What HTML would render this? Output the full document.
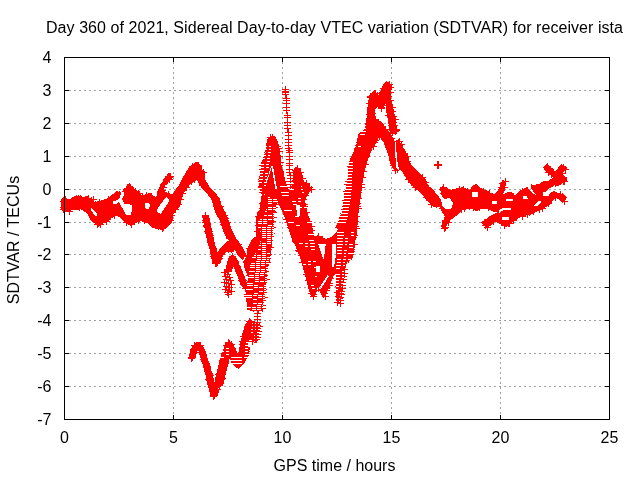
<!DOCTYPE html>
<html><head><meta charset="utf-8"><style>
html,body{margin:0;padding:0;background:#fff;width:640px;height:480px;overflow:hidden}
svg{display:block}
text{font-family:"Liberation Sans",Arial,sans-serif;font-size:16px;fill:#000}
</style></head><body>
<svg width="640" height="480" viewBox="0 0 640 480">
<rect width="640" height="480" fill="#fff"/>
<g shape-rendering="crispEdges" fill="none" stroke="#a0a0a0" stroke-width="1">
<path d="M64 386.5H610M64 353.5H610M64 320.5H610M64 287.5H610M64 254.5H610M64 222.5H610M64 189.5H610M64 156.5H610M64 123.5H610M64 90.5H610" stroke-dasharray="2 3"/><path d="M173.5 57V420M282.5 57V420M391.5 57V420M500.5 57V420" stroke-dasharray="2 3"/>
</g>
<defs><path id="trk" d="M199 170L199.6 179L204 186.4L209.75 192.3L214 198M200.5 170L201.1 179L205.5 186.4L211.25 192.3L215.5 198L217.5 204M191.5 358L193 351L196 345L199 345L202 352L205 362L208 372L210.5 382L212.5 390L213.5 395L216 388L219 375L222 362L225 352L228.5 343L232 349L235 357L237.5 362L240 358L242 350L243.5 342M219 385L222 372L225 360L227 352L229.5 348L232 355L235 363L238 365L241 362L244 355L246 347M214 198L216.5 205L218.5 211L221.5 217L224 224L226.5 231L229.5 237L234 243L238 249L241 255M218 205L220.5 211L223.5 217L226 224L228.5 231L231.5 237L236 243L240 249L242.5 255M205 215L207 225L208.5 233L210.5 242L213 250L214.5 258L215.5 263L218 258L220.5 252L223 248L226 245L230 243M220.5 254L224 248.5L228.5 248L233 248.5M232 256L230.5 261L229 266L228 271M232 256L234.75 262.5L239.75 273.75L242.9 282.5L246 287.5" fill="none" stroke="#ff0000" stroke-width="1" stroke-linejoin="round" stroke-linecap="round"/>
<clipPath id="hc"><path d="M90.5 208L93 209L96.5 213L97 216L95 215.5L91.5 211ZM121 191.5L123.5 192L123.5 196L122 199.5L124.75 204L128 204L131.5 205L132 209L131 214.5L126 214.5L124 211L121.5 206.5L119 202L117 203.5L112.5 203.5L112.5 201.5L116 200.5L119.5 198.5L120.5 195ZM144.5 202.5L149 202.5L150 206L148.5 209.4L145 208ZM166 196.9L169.75 200L166 206.25L161 213.75L157.9 212.5L156.6 210L161 203.75ZM271.5 166L273 166L275 178L277 189L275.5 189L273.5 178ZM271 166L272 167L269 176L266.5 183L265.5 182.5L268.5 175ZM296 204.4L299.75 205L299.75 216.25L297 216ZM318 243.5L325.8 243.5L325 251L323.5 259L321 253ZM331.5 243.5L336 243.5L336 255L334 267L331.5 267L332 255ZM327.5 275L329 276L324 284L320 290L319 288ZM316 266L319.5 266L319.5 272L316 272ZM442 196L444 199L450 198L453 203L452 207L450 209.5L445 208.5L442 206ZM472 192L478 192L478 196.5L472 196.5ZM492 200.5L497 200.5L497 203.6L492 203.6ZM501.6 217L509.4 217L509.4 220L501.6 220ZM394.6 141L396.2 143L396.5 152L397 160L398.5 167L399.3 170L398 170.5L396.5 167.5L395.6 160L395.2 150ZM506 198.5L512.5 198.5L512.5 201L506 201ZM522.6 197L524.5 195.8L527 196L528 199.4L526.5 198.5L523.5 199.4ZM534 205.5L538 201L541.4 200.8L540.5 203L536 206.8ZM543 192.5L550 192L549 195.5L543 196ZM527.5 185L530.5 185L531.5 188.5L534.5 193L535.5 194.5L533 194L529.5 190L527.5 187ZM498.5 211L502 208.2L511 208L511.5 209.5L503 210L499.5 213Z"/></clipPath></defs>
<g shape-rendering="crispEdges">
<path d="M61 199L64.5 196L66 197L67.5 199L70 199L73 197L75 196L81 196L83 197.5L86.5 196L88.5 198.5L90 198.5L91.5 196.5L93 200L94.5 202L97 201.5L101 200.5L106 199L110 196.5L113.5 193.5L116 191.5L117.5 191.25L120 193L122 195L123 194.5L123 188.75L126.5 187.5L127.5 184.4L130.6 184.4L131.25 187.5L133.75 188L133.5 190L135 189.4L137 190.6L140 191.25L141.25 194.4L143.75 195.6L146.25 193.75L150 193L152.5 195L155 197.5L157 196.5L157.5 190.6L160 186.25L162.5 181.9L165 177.5L167.5 174.4L170 175L173 178L170 180L167.5 182.5L165 186.25L163.75 190L165 191.9L168.75 193.1L171.9 194.4L173.75 192.5L176.25 188.75L178.5 186L183.5 176.25L187.25 170L190.4 165.6L194.75 163L197.25 162L199.75 164.4L202.25 168.75L204 175L195.5 179.5L193.7 182L189.75 185L186 190L182.25 196.25L181 202.5L179.75 206.25L176 210L173.5 213.75L172.25 221.9L168.5 226.25L163 230.6L159.75 229.4L156 228.75L153 228L149.75 225L147.25 223L141 221.25L136 223L130 225L126.25 223.75L122.5 220L118.75 216.25L116 215.5L114.75 216L111 218.5L107 222.25L103.5 222.9L100.5 225.4L98.5 226.6L96 224L92.25 222.25L89.75 218.5L88 214.75L84.75 211.6L81.5 209.5L79.5 208.5L78 209.5L72.5 209.5L69.75 211.6L64.5 211.6L61 209.75ZM270 136L273 135.5L276 137.5L279 145L280.4 153.75L281 162.5L284 175L287 187L289.5 191L292 189L293 180L293 172.5L294.5 168L296.6 166.5L299 168L301 171.25L304 181.25L307.25 183L309 185L312.25 188.75L308.5 193.75L306 197.5L305 200L306 205L307.25 212.5L309.75 218.75L312.25 226.25L313.5 232.5L314.75 236.25L318.5 235L322 237L326 238.75L331 237.5L334.75 233.75L337.9 230L336 226.25L338.5 221.25L339.75 216.25L342.25 211.25L343.5 202.5L344.1 192.5L346 187.5L347.25 180L347.9 177.5L348.5 167.5L349.75 160L351.6 156.25L354.1 151.25L355.4 145L357.25 140L357.9 135L360 132L364 130L365.4 123.5L366.6 117.25L367.25 108.5L368 103.5L369 96L371 93.5L373.5 91L376 93.5L378.5 95.4L381 89.75L383 84.75L386 81L389.75 83.5L392.25 87.25L391.6 89L390.4 97.25L392.25 102.25L393.5 108.5L394 113.5L395.4 116L396 124.75L397.25 128.5L397.9 130L395.5 133.75L390 133.75L389 128L388 120L386 110L386 103.5L383.5 108L381 109L377 107L374.75 110L374.75 115L376 118.5L379.75 121.25L384.75 126.25L388.5 131.25L392.25 136.25L394.75 141.25L398.5 139.4L399.75 142.5L402 143L403.5 147.5L406 152.5L409 156.25L409.75 162.5L413.5 167.5L416 170L421 175L426 180L428.5 186.25L431 187.25L437.25 194.75L441 199.75L441.6 203.5L442.5 200L441 193L439.75 188.5L443.5 186L446 187.5L451 189.75L456 188.5L462.25 187.25L466 188.5L469.75 189.75L473.5 184.8L477.4 184.8L479 187L482.9 189.5L487 190.5L490.7 192.7L493.8 194.2L497 192L499.3 187.2L500.8 182.5L503.2 179.4L506.3 184L505 188L503.2 194.2L508 192L512.6 192.7L515.5 195.5L520.4 190.3L525 188L529.75 185.6L533.2 185.2L539.4 183.6L543.3 181.25L548.8 180.5L553 178L549 174L544.5 170.5L543.3 167L546.5 164.8L549.5 165.5L555 171.9L560.5 164.8L563.5 164.8L566.8 168.75L563.5 172L563 175L566.8 177.3L566.8 181.25L563 182.8L558.2 186L554 185.2L548.8 189L544 193.75L541 196L547.25 193.75L553.5 191.4L558 193L562.9 193.75L566.8 196.9L566 200L562.9 203.1L559.75 200L556.6 198.4L553.5 200L550 204.75L545 207.25L540 209.75L533.75 213.5L528 215L523.75 216L519 218L515 219.75L510 225L505 227.25L500 223.5L495 222L490 226L486.25 228.5L481.25 222.25L485 219.75L490 216L495 213.5L501.25 211L505 209.5L503.75 208L500 209.75L495 212.25L488.75 209.75L482.5 208.5L476.25 211L470 208.5L466 209.5L462.25 209.75L456 216L451 219.75L447.25 224.75L444 229.75L441 226L443.5 219.75L444.75 216L442 212L440.4 208.5L439.5 207L438.5 206.6L433.5 207.25L429.75 203.75L423.5 196.25L418.5 191.25L412.25 186.25L407.25 180L403.5 173.75L401 170L398 168L396 170L394.75 171L392.25 167.5L389.75 162.5L388.5 156.25L386 148.75L383.5 142.5L379.75 137.5L378.5 137.5L376.6 142.5L372.25 148.75L369.75 155L367.25 161.25L365.4 167.5L363.5 177.5L362.25 185L361 195L359.75 203.75L358.5 211.25L357.9 220L357.25 227.5L356.6 235L355.4 240L354 250L352.6 257.5L346 265L344.2 276.3L341.3 291.3L339.5 302L337 303L335.7 300L336 273.3L333.3 276.7L330 285L326.7 293.3L323.3 298.3L320 291.7L317.5 288.3L315.8 294.2L313.3 297.5L310 294.2L307.5 285L303.3 268.3L299.2 255L295 245L292 240L289.5 232L287.25 225L284.75 217.5L282.5 212L279.5 206L277.5 201L274.4 215L273.75 225L273.1 235L272.25 240L271 252.5L269.75 261.25L267.25 271.25L266.6 280L266 290L264.75 298.75L262 309.8L258 311L253 311L247.5 309.8L246.3 300L246 290L246 286.25L248.5 277.5L246 272L244.75 268.75L243.5 262.5L246.6 255L247.25 248.75L251.6 240L256.25 236L256.25 220L256.9 213L260 210L260.6 201L261.6 195L258.5 186.25L259 178.75L260.4 172.5L261 163.75L262.9 158.75L265.4 151.25L266 145L267.25 139.4ZM249.2 319.3L252.8 320.8L257 321.9L260.1 326L259.5 332L258.6 339.6L254.9 343.75L252.8 340.6L249.5 340L247.6 344.8L247.1 350L240.3 350L240.9 341.7L242.4 333.3L245.5 324Z" fill="#ff0000"/>
<use href="#trk" x="-2.5" y="0.5"/><use href="#trk" x="-1.5" y="0.5"/><use href="#trk" x="-0.5" y="0.5"/><use href="#trk" x="0.5" y="0.5"/><use href="#trk" x="1.5" y="0.5"/><use href="#trk" x="2.5" y="0.5"/><use href="#trk" x="3.5" y="0.5"/><use href="#trk" x="0.5" y="-2.5"/><use href="#trk" x="0.5" y="-1.5"/><use href="#trk" x="0.5" y="-0.5"/><use href="#trk" x="0.5" y="1.5"/><use href="#trk" x="0.5" y="2.5"/><use href="#trk" x="0.5" y="3.5"/>
<path d="M195 171.5h7M198.5 168v7M197 173.5h7M200.5 170v7M196 176.5h7M199.5 173v7M196 177.5h7M199.5 174v7M196 179.5h7M199.5 176v7M198 182.5h7M201.5 179v7M199 185.5h7M202.5 182v7M200 185.5h7M203.5 182v7M202 187.5h7M205.5 184v7M203 188.5h7M206.5 185v7M205 191.5h7M208.5 188v7M206 192.5h7M209.5 189v7M208 195.5h7M211.5 192v7M209 194.5h7M212.5 191v7M209 195.5h7M212.5 192v7M188 357.5h7M191.5 354v7M189 355.5h7M192.5 352v7M189 356.5h7M192.5 353v7M190 350.5h7M193.5 347v7M190 349.5h7M193.5 346v7M192 348.5h7M195.5 345v7M193 348.5h7M196.5 345v7M191 345.5h7M194.5 342v7M193 347.5h7M196.5 344v7M195 346.5h7M198.5 343v7M197 345.5h7M200.5 342v7M196 347.5h7M199.5 344v7M198 350.5h7M201.5 347v7M197 352.5h7M200.5 349v7M198 350.5h7M201.5 347v7M199 353.5h7M202.5 350v7M199 354.5h7M202.5 351v7M201 359.5h7M204.5 356v7M200 359.5h7M203.5 356v7M201 359.5h7M204.5 356v7M201 361.5h7M204.5 358v7M203 364.5h7M206.5 361v7M203 363.5h7M206.5 360v7M204 366.5h7M207.5 363v7M204 367.5h7M207.5 364v7M204 371.5h7M207.5 368v7M204 371.5h7M207.5 368v7M206 373.5h7M209.5 370v7M205 373.5h7M208.5 370v7M207 375.5h7M210.5 372v7M205 379.5h7M208.5 376v7M206 380.5h7M209.5 377v7M207 383.5h7M210.5 380v7M207 383.5h7M210.5 380v7M207 384.5h7M210.5 381v7M209 387.5h7M212.5 384v7M208 387.5h7M211.5 384v7M209 388.5h7M212.5 385v7M209 391.5h7M212.5 388v7M211 393.5h7M214.5 390v7M210 394.5h7M213.5 391v7M210 396.5h7M213.5 393v7M211 393.5h7M214.5 390v7M212 389.5h7M215.5 386v7M212 389.5h7M215.5 386v7M214 389.5h7M217.5 386v7M213 386.5h7M216.5 383v7M213 382.5h7M216.5 379v7M214 382.5h7M217.5 379v7M216 381.5h7M219.5 378v7M215 377.5h7M218.5 374v7M216 378.5h7M219.5 375v7M217 374.5h7M220.5 371v7M215 374.5h7M218.5 371v7M216 375.5h7M219.5 372v7M218 371.5h7M221.5 368v7M218 371.5h7M221.5 368v7M218 366.5h7M221.5 363v7M219 367.5h7M222.5 364v7M219 363.5h7M222.5 360v7M219 364.5h7M222.5 361v7M220 360.5h7M223.5 357v7M220 361.5h7M223.5 358v7M219 360.5h7M222.5 357v7M221 357.5h7M224.5 354v7M221 355.5h7M224.5 352v7M221 353.5h7M224.5 350v7M222 352.5h7M225.5 349v7M222 351.5h7M225.5 348v7M223 351.5h7M226.5 348v7M223 345.5h7M226.5 342v7M226 347.5h7M229.5 344v7M225 342.5h7M228.5 339v7M227 345.5h7M230.5 342v7M228 344.5h7M231.5 341v7M227 348.5h7M230.5 345v7M228 348.5h7M231.5 345v7M229 348.5h7M232.5 345v7M230 351.5h7M233.5 348v7M230 353.5h7M233.5 350v7M232 354.5h7M235.5 351v7M231 354.5h7M234.5 351v7M233 357.5h7M236.5 354v7M234 360.5h7M237.5 357v7M233 362.5h7M236.5 359v7M235 362.5h7M238.5 359v7M235 359.5h7M238.5 356v7M237 360.5h7M240.5 357v7M238 356.5h7M241.5 353v7M237 357.5h7M240.5 354v7M238 354.5h7M241.5 351v7M239 354.5h7M242.5 351v7M240 351.5h7M243.5 348v7M240 349.5h7M243.5 346v7M240 348.5h7M243.5 345v7M239 347.5h7M242.5 344v7M241 346.5h7M244.5 343v7M241 343.5h7M244.5 340v7M217 383.5h7M220.5 380v7M216 382.5h7M219.5 379v7M219 378.5h7M222.5 375v7M218 379.5h7M221.5 376v7M219 374.5h7M222.5 371v7M218 374.5h7M221.5 371v7M218 371.5h7M221.5 368v7M219 369.5h7M222.5 366v7M220 367.5h7M223.5 364v7M221 364.5h7M224.5 361v7M222 363.5h7M225.5 360v7M222 360.5h7M225.5 357v7M222 359.5h7M225.5 356v7M223 358.5h7M226.5 355v7M223 355.5h7M226.5 352v7M223 352.5h7M226.5 349v7M226 352.5h7M229.5 349v7M227 347.5h7M230.5 344v7M226 349.5h7M229.5 346v7M228 352.5h7M231.5 349v7M228 353.5h7M231.5 350v7M230 357.5h7M233.5 354v7M229 357.5h7M232.5 354v7M231 361.5h7M234.5 358v7M232 362.5h7M235.5 359v7M231 362.5h7M234.5 359v7M237 363.5h7M240.5 360v7M237 362.5h7M240.5 359v7M239 359.5h7M242.5 356v7M238 359.5h7M241.5 356v7M240 355.5h7M243.5 352v7M242 355.5h7M245.5 352v7M241 354.5h7M244.5 351v7M243 351.5h7M246.5 348v7M243 349.5h7M246.5 346v7M212 201.5h7M215.5 198v7M213 202.5h7M216.5 199v7M214 205.5h7M217.5 202v7M213 206.5h7M216.5 203v7M215 209.5h7M218.5 206v7M214 209.5h7M217.5 206v7M215 212.5h7M218.5 209v7M216 214.5h7M219.5 211v7M217 216.5h7M220.5 213v7M219 217.5h7M222.5 214v7M220 221.5h7M223.5 218v7M221 224.5h7M224.5 221v7M220 224.5h7M223.5 221v7M223 229.5h7M226.5 226v7M224 230.5h7M227.5 227v7M224 231.5h7M227.5 228v7M224 233.5h7M227.5 230v7M226 235.5h7M229.5 232v7M226 238.5h7M229.5 235v7M228 239.5h7M231.5 236v7M230 240.5h7M233.5 237v7M231 244.5h7M234.5 241v7M232 246.5h7M235.5 243v7M235 249.5h7M238.5 246v7M234 248.5h7M237.5 245v7M238 252.5h7M241.5 249v7M238 255.5h7M241.5 252v7M217 206.5h7M220.5 203v7M216 207.5h7M219.5 204v7M219 212.5h7M222.5 209v7M221 215.5h7M224.5 212v7M222 218.5h7M225.5 215v7M224 222.5h7M227.5 219v7M223 225.5h7M226.5 222v7M225 231.5h7M228.5 228v7M226 232.5h7M229.5 229v7M228 235.5h7M231.5 232v7M229 240.5h7M232.5 237v7M231 240.5h7M234.5 237v7M232 241.5h7M235.5 238v7M235 244.5h7M238.5 241v7M237 250.5h7M240.5 247v7M238 252.5h7M241.5 249v7M239 256.5h7M242.5 253v7M202 216.5h7M205.5 213v7M202 220.5h7M205.5 217v7M202 222.5h7M205.5 219v7M203 222.5h7M206.5 219v7M203 225.5h7M206.5 222v7M203 226.5h7M206.5 223v7M205 228.5h7M208.5 225v7M204 231.5h7M207.5 228v7M206 231.5h7M209.5 228v7M206 235.5h7M209.5 232v7M207 235.5h7M210.5 232v7M207 237.5h7M210.5 234v7M207 241.5h7M210.5 238v7M208 242.5h7M211.5 239v7M208 245.5h7M211.5 242v7M208 245.5h7M211.5 242v7M210 248.5h7M213.5 245v7M210 251.5h7M213.5 248v7M211 253.5h7M214.5 250v7M210 253.5h7M213.5 250v7M210 256.5h7M213.5 253v7M213 259.5h7M216.5 256v7M212 263.5h7M215.5 260v7M214 262.5h7M217.5 259v7M214 258.5h7M217.5 255v7M216 258.5h7M219.5 255v7M216 253.5h7M219.5 250v7M216 252.5h7M219.5 249v7M218 252.5h7M221.5 249v7M219 250.5h7M222.5 247v7M221 247.5h7M224.5 244v7M222 247.5h7M225.5 244v7M225 244.5h7M228.5 241v7M227 245.5h7M230.5 242v7M217 254.5h7M220.5 251v7M218 251.5h7M221.5 248v7M220 251.5h7M223.5 248v7M221 249.5h7M224.5 246v7M225 249.5h7M228.5 246v7M228 249.5h7M231.5 246v7M230 248.5h7M233.5 245v7M230 258.5h7M233.5 255v7M230 259.5h7M233.5 256v7M232 261.5h7M235.5 258v7M231 264.5h7M234.5 261v7M234 266.5h7M237.5 263v7M233 266.5h7M236.5 263v7M234 268.5h7M237.5 265v7M236 271.5h7M239.5 268v7M237 274.5h7M240.5 271v7M237 274.5h7M240.5 271v7M238 278.5h7M241.5 275v7M238 280.5h7M241.5 277v7M240 280.5h7M243.5 277v7M240 284.5h7M243.5 281v7M242 288.5h7M245.5 285v7M61 201.5h7M64.5 198v7M61 199.5h7M64.5 196v7M62 199.5h7M65.5 196v7M65 203.5h7M68.5 200v7M69 200.5h7M72.5 197v7M73 198.5h7M76.5 195v7M75 198.5h7M78.5 195v7M77 198.5h7M80.5 195v7M84 199.5h7M87.5 196v7M84 199.5h7M87.5 196v7M86 202.5h7M89.5 199v7M90 199.5h7M93.5 196v7M85 198.5h7M88.5 195v7M90 202.5h7M93.5 199v7M92 204.5h7M95.5 201v7M96 202.5h7M99.5 199v7M104 202.5h7M107.5 199v7M105 199.5h7M108.5 196v7M111 196.5h7M114.5 193v7M114 194.5h7M117.5 191v7M114 195.5h7M117.5 192v7M116 194.5h7M119.5 191v7M117 195.5h7M120.5 192v7M121 197.5h7M124.5 194v7M123 189.5h7M126.5 186v7M122 191.5h7M125.5 188v7M127 187.5h7M130.5 184v7M126 188.5h7M129.5 185v7M126 186.5h7M129.5 183v7M129 191.5h7M132.5 188v7M129 189.5h7M132.5 186v7M132 191.5h7M135.5 188v7M132 192.5h7M135.5 189v7M135 193.5h7M138.5 190v7M135 193.5h7M138.5 190v7M139 196.5h7M142.5 193v7M143 195.5h7M146.5 192v7M147 196.5h7M150.5 193v7M148 196.5h7M151.5 193v7M149 199.5h7M152.5 196v7M155 198.5h7M158.5 195v7M156 196.5h7M159.5 193v7M159 190.5h7M162.5 187v7M161 183.5h7M164.5 180v7M163 181.5h7M166.5 178v7M165 176.5h7M168.5 173v7M166 176.5h7M169.5 173v7M166 179.5h7M169.5 176v7M167 176.5h7M170.5 173v7M163 179.5h7M166.5 176v7M160 184.5h7M163.5 181v7M160 187.5h7M163.5 184v7M159 193.5h7M162.5 190v7M165 194.5h7M168.5 191v7M165 196.5h7M168.5 193v7M173 195.5h7M176.5 192v7M174 191.5h7M177.5 188v7M175 190.5h7M178.5 187v7M179 184.5h7M182.5 181v7M181 182.5h7M184.5 179v7M182 181.5h7M185.5 178v7M183 176.5h7M186.5 173v7M185 174.5h7M188.5 171v7M189 169.5h7M192.5 166v7M189 166.5h7M192.5 163v7M195 165.5h7M198.5 162v7M192 165.5h7M195.5 162v7M195 166.5h7M198.5 163v7M198 171.5h7M201.5 168v7M200 172.5h7M203.5 169v7M192 177.5h7M195.5 174v7M191 179.5h7M194.5 176v7M188 181.5h7M191.5 178v7M183 187.5h7M186.5 184v7M180 189.5h7M183.5 186v7M179 193.5h7M182.5 190v7M177 199.5h7M180.5 196v7M175 204.5h7M178.5 201v7M172 209.5h7M175.5 206v7M168 212.5h7M171.5 209v7M168 215.5h7M171.5 212v7M167 220.5h7M170.5 217v7M167 220.5h7M170.5 217v7M162 225.5h7M165.5 222v7M160 227.5h7M163.5 224v7M159 228.5h7M162.5 225v7M155 226.5h7M158.5 223v7M152 225.5h7M155.5 222v7M150 224.5h7M153.5 221v7M147 221.5h7M150.5 218v7M141 220.5h7M144.5 217v7M135 220.5h7M138.5 217v7M128 224.5h7M131.5 221v7M127 222.5h7M130.5 219v7M123 222.5h7M126.5 219v7M120 215.5h7M123.5 212v7M115 213.5h7M118.5 210v7M111 215.5h7M114.5 212v7M107 216.5h7M110.5 213v7M103 219.5h7M106.5 216v7M103 221.5h7M106.5 218v7M97 224.5h7M100.5 221v7M94 224.5h7M97.5 221v7M96 222.5h7M99.5 219v7M91 219.5h7M94.5 216v7M91 219.5h7M94.5 216v7M89 217.5h7M92.5 214v7M85 211.5h7M88.5 208v7M81 208.5h7M84.5 205v7M78 206.5h7M81.5 203v7M76 207.5h7M79.5 204v7M75 206.5h7M78.5 203v7M66 208.5h7M69.5 205v7M66 211.5h7M69.5 208v7M60 207.5h7M63.5 204v7M60 209.5h7M63.5 206v7M62 206.5h7M65.5 203v7M60 201.5h7M63.5 198v7M268 139.5h7M271.5 136v7M269 137.5h7M272.5 134v7M271 141.5h7M274.5 138v7M274 146.5h7M277.5 143v7M275 148.5h7M278.5 145v7M276 151.5h7M279.5 148v7M276 156.5h7M279.5 153v7M277 162.5h7M280.5 159v7M276 165.5h7M279.5 162v7M277 171.5h7M280.5 168v7M277 172.5h7M280.5 169v7M278 178.5h7M281.5 175v7M281 181.5h7M284.5 178v7M282 184.5h7M285.5 181v7M284 191.5h7M287.5 188v7M290 192.5h7M293.5 189v7M290 186.5h7M293.5 183v7M291 181.5h7M294.5 178v7M292 180.5h7M295.5 177v7M293 176.5h7M296.5 173v7M292 172.5h7M295.5 169v7M294 168.5h7M297.5 165v7M292 170.5h7M295.5 167v7M293 170.5h7M296.5 167v7M297 172.5h7M300.5 169v7M299 178.5h7M302.5 175v7M303 183.5h7M306.5 180v7M302 185.5h7M305.5 182v7M306 187.5h7M309.5 184v7M308 189.5h7M311.5 186v7M302 195.5h7M305.5 192v7M300 199.5h7M303.5 196v7M301 204.5h7M304.5 201v7M301 206.5h7M304.5 203v7M303 212.5h7M306.5 209v7M303 219.5h7M306.5 216v7M305 221.5h7M308.5 218v7M308 226.5h7M311.5 223v7M308 230.5h7M311.5 227v7M309 236.5h7M312.5 233v7M315 236.5h7M318.5 233v7M315 237.5h7M318.5 234v7M319 239.5h7M322.5 236v7M327 240.5h7M330.5 237v7M332 239.5h7M335.5 236v7M335 233.5h7M338.5 230v7M335 227.5h7M338.5 224v7M338 224.5h7M341.5 221v7M339 219.5h7M342.5 216v7M340 213.5h7M343.5 210v7M341 209.5h7M344.5 206v7M342 206.5h7M345.5 203v7M342 200.5h7M345.5 197v7M344 196.5h7M347.5 193v7M343 191.5h7M346.5 188v7M344 184.5h7M347.5 181v7M345 181.5h7M348.5 178v7M347 180.5h7M350.5 177v7M348 174.5h7M351.5 171v7M348 170.5h7M351.5 167v7M347 166.5h7M350.5 163v7M349 163.5h7M352.5 160v7M351 159.5h7M354.5 156v7M354 154.5h7M357.5 151v7M354 148.5h7M357.5 145v7M355 143.5h7M358.5 140v7M356 137.5h7M359.5 134v7M358 137.5h7M361.5 134v7M360 134.5h7M363.5 131v7M365 127.5h7M368.5 124v7M367 119.5h7M370.5 116v7M366 114.5h7M369.5 111v7M365 110.5h7M368.5 107v7M368 104.5h7M371.5 101v7M366 103.5h7M369.5 100v7M367 97.5h7M370.5 94v7M367 96.5h7M370.5 93v7M372 93.5h7M375.5 90v7M371 93.5h7M374.5 90v7M374 95.5h7M377.5 92v7M379 92.5h7M382.5 89v7M380 88.5h7M383.5 85v7M383 85.5h7M386.5 82v7M385 85.5h7M388.5 82v7M386 84.5h7M389.5 81v7M387 87.5h7M390.5 84v7M387 92.5h7M390.5 89v7M385 96.5h7M388.5 93v7M387 100.5h7M390.5 97v7M389 107.5h7M392.5 104v7M389 111.5h7M392.5 108v7M390 116.5h7M393.5 113v7M392 119.5h7M395.5 116v7M390 122.5h7M393.5 119v7M391 125.5h7M394.5 122v7M393 129.5h7M396.5 126v7M393 130.5h7M396.5 127v7M392 131.5h7M395.5 128v7M389 132.5h7M392.5 129v7M388 125.5h7M391.5 122v7M388 120.5h7M391.5 117v7M388 119.5h7M391.5 116v7M385 115.5h7M388.5 112v7M386 104.5h7M389.5 101v7M379 105.5h7M382.5 102v7M378 107.5h7M381.5 104v7M378 108.5h7M381.5 105v7M371 106.5h7M374.5 103v7M369 113.5h7M372.5 110v7M372 119.5h7M375.5 116v7M375 122.5h7M378.5 119v7M377 124.5h7M380.5 121v7M379 126.5h7M382.5 123v7M382 129.5h7M385.5 126v7M384 133.5h7M387.5 130v7M388 138.5h7M391.5 135v7M396 141.5h7M399.5 138v7M393 143.5h7M396.5 140v7M398 144.5h7M401.5 141v7M398 144.5h7M401.5 141v7M399 152.5h7M402.5 149v7M404 156.5h7M407.5 153v7M404 161.5h7M407.5 158v7M407 168.5h7M410.5 165v7M409 171.5h7M412.5 168v7M413 173.5h7M416.5 170v7M415 176.5h7M418.5 173v7M419 177.5h7M422.5 174v7M419 179.5h7M422.5 176v7M422 182.5h7M425.5 179v7M425 188.5h7M428.5 185v7M427 190.5h7M430.5 187v7M429 193.5h7M432.5 190v7M432 197.5h7M435.5 194v7M436 203.5h7M439.5 200v7M441 202.5h7M444.5 199v7M442 197.5h7M445.5 194v7M440 193.5h7M443.5 190v7M440 189.5h7M443.5 186v7M439 189.5h7M442.5 186v7M440 187.5h7M443.5 184v7M442 191.5h7M445.5 188v7M450 192.5h7M453.5 189v7M456 189.5h7M459.5 186v7M460 189.5h7M463.5 186v7M464 191.5h7M467.5 188v7M469 190.5h7M472.5 187v7M472 187.5h7M475.5 184v7M473 187.5h7M476.5 184v7M478 191.5h7M481.5 188v7M480 191.5h7M483.5 188v7M486 193.5h7M489.5 190v7M489 196.5h7M492.5 193v7M496 195.5h7M499.5 192v7M497 191.5h7M500.5 188v7M498 187.5h7M501.5 184v7M502 181.5h7M505.5 178v7M499 183.5h7M502.5 180v7M501 187.5h7M504.5 184v7M498 189.5h7M501.5 186v7M505 195.5h7M508.5 192v7M508 195.5h7M511.5 192v7M510 196.5h7M513.5 193v7M516 195.5h7M519.5 192v7M517 193.5h7M520.5 190v7M519 191.5h7M522.5 188v7M527 188.5h7M530.5 185v7M528 187.5h7M531.5 184v7M531 188.5h7M534.5 185v7M538 186.5h7M541.5 183v7M545 184.5h7M548.5 181v7M547 182.5h7M550.5 179v7M548 174.5h7M551.5 171v7M545 172.5h7M548.5 169v7M543 167.5h7M546.5 164v7M544 166.5h7M547.5 163v7M544 167.5h7M547.5 164v7M547 169.5h7M550.5 166v7M549 171.5h7M552.5 168v7M556 170.5h7M559.5 167v7M558 167.5h7M561.5 164v7M560 167.5h7M563.5 164v7M562 169.5h7M565.5 166v7M558 169.5h7M561.5 166v7M559 173.5h7M562.5 170v7M560 178.5h7M563.5 175v7M561 181.5h7M564.5 178v7M560 181.5h7M563.5 178v7M557 181.5h7M560.5 178v7M552 183.5h7M555.5 180v7M549 183.5h7M552.5 180v7M541 192.5h7M544.5 189v7M538 194.5h7M541.5 191v7M544 195.5h7M547.5 192v7M548 196.5h7M551.5 193v7M551 194.5h7M554.5 191v7M557 194.5h7M560.5 191v7M559 196.5h7M562.5 193v7M560 197.5h7M563.5 194v7M561 201.5h7M564.5 198v7M559 198.5h7M562.5 195v7M556 196.5h7M559.5 193v7M552 197.5h7M555.5 194v7M545 202.5h7M548.5 199v7M545 203.5h7M548.5 200v7M539 208.5h7M542.5 205v7M536 209.5h7M539.5 206v7M530 211.5h7M533.5 208v7M526 212.5h7M529.5 209v7M524 214.5h7M527.5 211v7M519 216.5h7M522.5 213v7M513 216.5h7M516.5 213v7M510 220.5h7M513.5 217v7M505 223.5h7M508.5 220v7M506 223.5h7M509.5 220v7M501 225.5h7M504.5 222v7M496 220.5h7M499.5 217v7M490 221.5h7M493.5 218v7M484 227.5h7M487.5 224v7M482 225.5h7M485.5 222v7M481 222.5h7M484.5 219v7M483 222.5h7M486.5 219v7M485 220.5h7M488.5 217v7M492 218.5h7M495.5 215v7M494 214.5h7M497.5 211v7M502 211.5h7M505.5 208v7M503 207.5h7M506.5 204v7M497 207.5h7M500.5 204v7M495 210.5h7M498.5 207v7M490 208.5h7M493.5 205v7M485 207.5h7M488.5 204v7M476 207.5h7M479.5 204v7M470 207.5h7M473.5 204v7M466 206.5h7M469.5 203v7M461 208.5h7M464.5 205v7M458 209.5h7M461.5 206v7M454 211.5h7M457.5 208v7M448 215.5h7M451.5 212v7M445 222.5h7M448.5 219v7M441 228.5h7M444.5 225v7M442 227.5h7M445.5 224v7M442 221.5h7M445.5 218v7M442 220.5h7M445.5 217v7M442 211.5h7M445.5 208v7M439 208.5h7M442.5 205v7M438 206.5h7M441.5 203v7M437 204.5h7M440.5 201v7M433 204.5h7M436.5 201v7M428 204.5h7M431.5 201v7M427 199.5h7M430.5 196v7M423 197.5h7M426.5 194v7M422 194.5h7M425.5 191v7M419 191.5h7M422.5 188v7M416 188.5h7M419.5 185v7M412 187.5h7M415.5 184v7M408 182.5h7M411.5 179v7M405 179.5h7M408.5 176v7M405 175.5h7M408.5 172v7M404 175.5h7M407.5 172v7M402 171.5h7M405.5 168v7M398 166.5h7M401.5 163v7M393 167.5h7M396.5 164v7M392 170.5h7M395.5 167v7M394 169.5h7M397.5 166v7M390 165.5h7M393.5 162v7M389 158.5h7M392.5 155v7M388 153.5h7M391.5 150v7M387 150.5h7M390.5 147v7M384 144.5h7M387.5 141v7M381 139.5h7M384.5 136v7M376 136.5h7M379.5 133v7M372 140.5h7M375.5 137v7M371 142.5h7M374.5 139v7M370 146.5h7M373.5 143v7M365 150.5h7M368.5 147v7M363 156.5h7M366.5 153v7M362 164.5h7M365.5 161v7M360 171.5h7M363.5 168v7M359 177.5h7M362.5 174v7M358 177.5h7M361.5 174v7M358 184.5h7M361.5 181v7M358 187.5h7M361.5 184v7M355 192.5h7M358.5 189v7M355 198.5h7M358.5 195v7M354 203.5h7M357.5 200v7M354 206.5h7M357.5 203v7M355 208.5h7M358.5 205v7M352 212.5h7M355.5 209v7M353 216.5h7M356.5 213v7M352 221.5h7M355.5 218v7M352 226.5h7M355.5 223v7M353 228.5h7M356.5 225v7M351 235.5h7M354.5 232v7M350 237.5h7M353.5 234v7M351 244.5h7M354.5 241v7M348 249.5h7M351.5 246v7M348 251.5h7M351.5 248v7M347 254.5h7M350.5 251v7M345 259.5h7M348.5 256v7M343 260.5h7M346.5 257v7M339 266.5h7M342.5 263v7M341 269.5h7M344.5 266v7M341 273.5h7M344.5 270v7M338 277.5h7M341.5 274v7M337 281.5h7M340.5 278v7M336 287.5h7M339.5 284v7M336 288.5h7M339.5 285v7M337 293.5h7M340.5 290v7M335 296.5h7M338.5 293v7M336 300.5h7M339.5 297v7M334 302.5h7M337.5 299v7M336 300.5h7M339.5 297v7M336 298.5h7M339.5 295v7M336 294.5h7M339.5 291v7M334 292.5h7M337.5 289v7M335 286.5h7M338.5 283v7M336 282.5h7M339.5 279v7M336 279.5h7M339.5 276v7M336 275.5h7M339.5 272v7M329 272.5h7M332.5 269v7M327 278.5h7M330.5 275v7M326 283.5h7M329.5 280v7M326 285.5h7M329.5 282v7M323 290.5h7M326.5 287v7M321 293.5h7M324.5 290v7M322 296.5h7M325.5 293v7M320 291.5h7M323.5 288v7M315 288.5h7M318.5 285v7M312 290.5h7M315.5 287v7M310 294.5h7M313.5 291v7M310 296.5h7M313.5 293v7M308 293.5h7M311.5 290v7M308 287.5h7M311.5 284v7M307 283.5h7M310.5 280v7M305 280.5h7M308.5 277v7M303 274.5h7M306.5 271v7M303 269.5h7M306.5 266v7M302 265.5h7M305.5 262v7M299 262.5h7M302.5 259v7M298 255.5h7M301.5 252v7M296 251.5h7M299.5 248v7M295 250.5h7M298.5 247v7M296 245.5h7M299.5 242v7M292 241.5h7M295.5 238v7M291 237.5h7M294.5 234v7M290 233.5h7M293.5 230v7M289 229.5h7M292.5 226v7M287 227.5h7M290.5 224v7M285 222.5h7M288.5 219v7M283 219.5h7M286.5 216v7M283 214.5h7M286.5 211v7M282 209.5h7M285.5 206v7M276 202.5h7M279.5 199v7M272 204.5h7M275.5 201v7M271 207.5h7M274.5 204v7M269 211.5h7M272.5 208v7M270 212.5h7M273.5 209v7M270 217.5h7M273.5 214v7M269 221.5h7M272.5 218v7M269 227.5h7M272.5 224v7M268 233.5h7M271.5 230v7M267 236.5h7M270.5 233v7M266 240.5h7M269.5 237v7M267 247.5h7M270.5 244v7M265 249.5h7M268.5 246v7M265 254.5h7M268.5 251v7M264 258.5h7M267.5 255v7M264 262.5h7M267.5 259v7M262 271.5h7M265.5 268v7M261 275.5h7M264.5 272v7M263 279.5h7M266.5 276v7M260 282.5h7M263.5 279v7M260 289.5h7M263.5 286v7M260 292.5h7M263.5 289v7M261 297.5h7M264.5 294v7M259 300.5h7M262.5 297v7M259 305.5h7M262.5 302v7M259 308.5h7M262.5 305v7M255 310.5h7M258.5 307v7M255 309.5h7M258.5 306v7M250 308.5h7M253.5 305v7M247 307.5h7M250.5 304v7M247 300.5h7M250.5 297v7M244 296.5h7M247.5 293v7M244 294.5h7M247.5 291v7M246 289.5h7M249.5 286v7M245 284.5h7M248.5 281v7M248 282.5h7M251.5 279v7M246 275.5h7M249.5 272v7M245 268.5h7M248.5 265v7M244 264.5h7M247.5 261v7M243 261.5h7M246.5 258v7M245 259.5h7M248.5 256v7M247 254.5h7M250.5 251v7M246 248.5h7M249.5 245v7M249 245.5h7M252.5 242v7M251 240.5h7M254.5 237v7M256 232.5h7M259.5 229v7M254 231.5h7M257.5 228v7M255 225.5h7M258.5 222v7M256 220.5h7M259.5 217v7M257 217.5h7M260.5 214v7M255 216.5h7M258.5 213v7M257 212.5h7M260.5 209v7M259 208.5h7M262.5 205v7M259 203.5h7M262.5 200v7M262 198.5h7M265.5 195v7M259 192.5h7M262.5 189v7M258 187.5h7M261.5 184v7M258 186.5h7M261.5 183v7M258 181.5h7M261.5 178v7M258 179.5h7M261.5 176v7M259 169.5h7M262.5 166v7M259 165.5h7M262.5 162v7M262 162.5h7M265.5 159v7M264 158.5h7M267.5 155v7M264 152.5h7M267.5 149v7M266 150.5h7M269.5 147v7M266 144.5h7M269.5 141v7M267 137.5h7M270.5 134v7M247 322.5h7M250.5 319v7M252 325.5h7M255.5 322v7M256 326.5h7M259.5 323v7M255 331.5h7M258.5 328v7M252 335.5h7M255.5 332v7M254 337.5h7M257.5 334v7M249 341.5h7M252.5 338v7M253 339.5h7M256.5 336v7M250 338.5h7M253.5 335v7M243 339.5h7M246.5 336v7M241 346.5h7M244.5 343v7M240 348.5h7M243.5 345v7M241 346.5h7M244.5 343v7M239 344.5h7M242.5 341v7M239 341.5h7M242.5 338v7M240 336.5h7M243.5 333v7M242 333.5h7M245.5 330v7M244 326.5h7M247.5 323v7M246 321.5h7M249.5 318v7M282 89.5h7M285.5 86v7M282 91.5h7M285.5 88v7M282 92.5h7M285.5 89v7M282 94.5h7M285.5 91v7M283 98.5h7M286.5 95v7M283 100.5h7M286.5 97v7M283 103.5h7M286.5 100v7M283 107.5h7M286.5 104v7M283 110.5h7M286.5 107v7M284 115.5h7M287.5 112v7M284 117.5h7M287.5 114v7M284 122.5h7M287.5 119v7M284 125.5h7M287.5 122v7M284 128.5h7M287.5 125v7M285 132.5h7M288.5 129v7M285 135.5h7M288.5 132v7M285 139.5h7M288.5 136v7M285 142.5h7M288.5 139v7M285 145.5h7M288.5 142v7M285 148.5h7M288.5 145v7M286 150.5h7M289.5 147v7M286 152.5h7M289.5 149v7M286 156.5h7M289.5 153v7M286 159.5h7M289.5 156v7M286 163.5h7M289.5 160v7M286 165.5h7M289.5 162v7M286 169.5h7M289.5 166v7M286 172.5h7M289.5 169v7M287 175.5h7M290.5 172v7M287 178.5h7M290.5 175v7M287 181.5h7M290.5 178v7M287 184.5h7M290.5 181v7M287 187.5h7M290.5 184v7M287 190.5h7M290.5 187v7M434 164.5h7M437.5 161v7M435 164.5h7M438.5 161v7M434 165.5h7M437.5 162v7M435 165.5h7M438.5 162v7M221 272.5h7M224.5 269v7M224 274.5h7M227.5 271v7M222 276.5h7M225.5 273v7M226 277.5h7M229.5 274v7M223 279.5h7M226.5 276v7M227 280.5h7M230.5 277v7M221 282.5h7M224.5 279v7M225 283.5h7M228.5 280v7M228 284.5h7M231.5 281v7M223 286.5h7M226.5 283v7M226 287.5h7M229.5 284v7M222 289.5h7M225.5 286v7M225 290.5h7M228.5 287v7M228 291.5h7M231.5 288v7M224 292.5h7M227.5 289v7M225 294.5h7M228.5 291v7M340 276.5h7M343.5 273v7M340 279.5h7M343.5 276v7M339 282.5h7M342.5 279v7M339 285.5h7M342.5 282v7M339 288.5h7M342.5 285v7M338 291.5h7M341.5 288v7M338 294.5h7M341.5 291v7M337 297.5h7M340.5 294v7M337 300.5h7M340.5 297v7M337 303.5h7M340.5 300v7M254 313.5h7M257.5 310v7M254 316.5h7M257.5 313v7M254 319.5h7M257.5 316v7M254 322.5h7M257.5 319v7M254 325.5h7M257.5 322v7M254 328.5h7M257.5 325v7M254 331.5h7M257.5 328v7M254 334.5h7M257.5 331v7M254 337.5h7M257.5 334v7" stroke="#ff0000" stroke-width="1" fill="none"/>
<path d="M266 146.5H267M269 146.5H271M266 149.5H267M269 149.5H271M265 152.5H266M268 152.5H271M264 155.5H266M268 155.5H270M263 158.5H265M267 158.5H270M267 161.5H270M261 164.5H264M266 164.5H269M261 167.5H264M266 167.5H269M261 170.5H264M260 173.5H263M265 173.5H268M260 176.5H263M265 176.5H267M259 179.5H263M265 179.5H267M259 182.5H262M264 182.5H266M264 185.5H266M258 188.5H262M258 191.5H262M257 194.5H262M264 194.5H265M257 197.5H261M268 197.5H270M268 199.5H272M273 199.5H277M268 201.5H272M273 201.5H277M268 203.5H272M268 207.5H272M273 207.5H276M266 209.5H267M268 209.5H272M273 209.5H276M265 211.5H267M273 213.5H275M264 215.5H267M268 215.5H272M273 215.5H275M273 217.5H274M260 219.5H262M263 219.5H267M268 219.5H272M273 219.5H274M258 221.5H262M263 221.5H267M258 223.5H262M263 223.5H267M273 223.5H274M268 225.5H272M273 225.5H274M258 227.5H261M262 227.5H266M267 227.5H271M272 227.5H274M262 229.5H266M267 229.5H271M272 229.5H274M260 231.5H261M262 231.5H266M267 231.5H271M272 231.5H274M262 233.5H266M267 233.5H271M272 233.5H274M262 235.5H266M267 235.5H271M272 235.5H273M262 237.5H266M267 237.5H271M272 237.5H273M267 239.5H271M272 239.5H273M260 241.5H261M267 241.5H271M272 241.5H273M260 243.5H261M262 243.5H266M267 243.5H271M259 245.5H261M262 245.5H266M262 247.5H266M258 249.5H261M262 249.5H266M262 251.5H266M255 253.5H256M262 253.5H266M267 253.5H270M254 255.5H256M257 255.5H261M262 255.5H266M252 257.5H256M257 257.5H261M262 257.5H266M267 257.5H270M257 259.5H261M262 259.5H266M267 259.5H269M256 261.5H260M261 261.5H265M266 261.5H269M251 263.5H255M256 263.5H260M261 263.5H265M266 263.5H269M250 265.5H255M256 265.5H260M261 265.5H265M250 267.5H255M256 267.5H260M266 267.5H268M256 269.5H260M261 269.5H265M266 269.5H268M249 271.5H255M256 271.5H260M261 271.5H265M255 273.5H259M260 273.5H264M265 273.5H267M249 275.5H254M255 275.5H259M260 275.5H264M248 277.5H254M255 277.5H259M265 277.5H267M255 279.5H259M265 279.5H267M255 281.5H259M260 281.5H264M265 281.5H267M247 283.5H253M247 285.5H253M254 285.5H258M264 285.5H266M254 287.5H258M259 287.5H263M264 287.5H266M246 289.5H253M264 289.5H266M259 291.5H263M264 291.5H266M254 293.5H258M264 293.5H266M246 295.5H252M253 295.5H257M258 295.5H262M263 295.5H265M246 297.5H252M258 297.5H262M263 297.5H265M253 299.5H257M263 299.5H265M263 301.5H264M253 303.5H257M258 303.5H262M263 303.5H264M257 305.5H261M262 305.5H263M247 307.5H251M252 307.5H256M257 307.5H261M262 307.5H263M252 309.5H256M257 309.5H261M348 162.5H353M348 165.5H353M348 168.5H353M348 171.5H353M348 174.5H352M348 177.5H352M347 180.5H352M347 183.5H352M346 186.5H352M345 189.5H352M344 192.5H351M344 195.5H351M344 198.5H351M344 201.5H350M343 204.5H350M343 207.5H349M342 210.5H349M341 213.5H348M340 216.5H348M339 219.5H347M338 222.5H346M337 232.5H344M351 232.5H354M337 235.5H344M351 235.5H354M337 238.5H343M345 238.5H348M337 241.5H343M345 241.5H348M337 244.5H343M345 244.5H347M349 244.5H353M337 247.5H342M349 247.5H353M337 250.5H342M344 250.5H347M337 253.5H342M344 253.5H346M348 253.5H353M344 256.5H346M337 259.5H341M343 259.5H346M348 259.5H351M337 262.5H341M343 262.5H345M347 262.5H348M336 265.5H341M343 265.5H345M336 268.5H340M342 271.5H344M336 274.5H340M342 274.5H344M336 277.5H340M342 277.5H344M336 280.5H339M341 280.5H343M336 283.5H339M341 283.5H343M336 286.5H339M341 286.5H342M336 289.5H338M340 292.5H341M340 295.5H341M336 298.5H337M339 298.5H340M336 301.5H337M339 301.5H340M252 323.5H253M255 323.5H256M252 326.5H253M255 326.5H256M258 326.5H260M251 329.5H253M255 329.5H256M258 329.5H260M251 332.5H253M257 332.5H259M254 335.5H255M257 335.5H259M254 338.5H255M257 338.5H259M254 341.5H255M290 183.5H294M280 186.5H288M301 186.5H302M290 189.5H294M301 189.5H303M281 192.5H289M302 192.5H304M282 195.5H289M298 198.5H301M292 201.5H296M298 201.5H301M293 204.5H297M299 207.5H302M304 207.5H308M284 210.5H292M295 216.5H299M288 222.5H294M307 222.5H311M296 225.5H300M308 234.5H314M309 240.5H314M299 243.5H303M305 243.5H308M310 243.5H315M305 246.5H308M310 246.5H315M311 249.5H315M308 261.5H311M313 261.5H316M303 264.5H306M308 264.5H311M314 267.5H316M315 276.5H317M311 285.5H314M312 288.5H315M317 288.5H318M357 95.5H363M365 98.5H368M357 104.5H362M356 110.5H361M363 110.5H367M356 113.5H361M362 116.5H367M355 125.5H359M361 125.5H366M361 128.5H366M354 131.5H358M360 131.5H366M354 134.5H358M360 134.5H365M354 137.5H358M353 143.5H357M352 146.5H356M358 146.5H361M246 342.5H249M245 345.5H248M226 348.5H229M245 348.5H248M220 351.5H224M226 351.5H229M245 351.5H248M226 354.5H229M245 354.5H248M220 357.5H224M231 357.5H242M244 357.5H248M231 360.5H242M231 363.5H242M238 369.5H241" stroke="#fff" stroke-width="1" fill="none"/>
<path d="M90.5 208L93 209L96.5 213L97 216L95 215.5L91.5 211ZM121 191.5L123.5 192L123.5 196L122 199.5L124.75 204L128 204L131.5 205L132 209L131 214.5L126 214.5L124 211L121.5 206.5L119 202L117 203.5L112.5 203.5L112.5 201.5L116 200.5L119.5 198.5L120.5 195ZM144.5 202.5L149 202.5L150 206L148.5 209.4L145 208ZM166 196.9L169.75 200L166 206.25L161 213.75L157.9 212.5L156.6 210L161 203.75ZM271.5 166L273 166L275 178L277 189L275.5 189L273.5 178ZM271 166L272 167L269 176L266.5 183L265.5 182.5L268.5 175ZM296 204.4L299.75 205L299.75 216.25L297 216ZM318 243.5L325.8 243.5L325 251L323.5 259L321 253ZM331.5 243.5L336 243.5L336 255L334 267L331.5 267L332 255ZM327.5 275L329 276L324 284L320 290L319 288ZM316 266L319.5 266L319.5 272L316 272ZM442 196L444 199L450 198L453 203L452 207L450 209.5L445 208.5L442 206ZM472 192L478 192L478 196.5L472 196.5ZM492 200.5L497 200.5L497 203.6L492 203.6ZM501.6 217L509.4 217L509.4 220L501.6 220ZM394.6 141L396.2 143L396.5 152L397 160L398.5 167L399.3 170L398 170.5L396.5 167.5L395.6 160L395.2 150ZM506 198.5L512.5 198.5L512.5 201L506 201ZM522.6 197L524.5 195.8L527 196L528 199.4L526.5 198.5L523.5 199.4ZM534 205.5L538 201L541.4 200.8L540.5 203L536 206.8ZM543 192.5L550 192L549 195.5L543 196ZM527.5 185L530.5 185L531.5 188.5L534.5 193L535.5 194.5L533 194L529.5 190L527.5 187ZM498.5 211L502 208.2L511 208L511.5 209.5L503 210L499.5 213Z" fill="#fff"/>
<g clip-path="url(#hc)" fill="none" stroke="#a0a0a0" stroke-width="1"><path d="M64 386.5H610M64 353.5H610M64 320.5H610M64 287.5H610M64 254.5H610M64 222.5H610M64 189.5H610M64 156.5H610M64 123.5H610M64 90.5H610" stroke-dasharray="2 3"/><path d="M173.5 57V420M282.5 57V420M391.5 57V420M500.5 57V420" stroke-dasharray="2 3"/></g>
</g>
<g shape-rendering="crispEdges" fill="none" stroke="#000" stroke-width="1">
<path d="M64.5 57.5H609.5V419.5H64.5Z"/>
<path d="M64 419.5h5M610 419.5h-5M64 386.5h5M610 386.5h-5M64 353.5h5M610 353.5h-5M64 320.5h5M610 320.5h-5M64 287.5h5M610 287.5h-5M64 254.5h5M610 254.5h-5M64 222.5h5M610 222.5h-5M64 189.5h5M610 189.5h-5M64 156.5h5M610 156.5h-5M64 123.5h5M610 123.5h-5M64 90.5h5M610 90.5h-5M64 57.5h5M610 57.5h-5M64.5 420v-5M64.5 57v5M173.5 420v-5M173.5 57v5M282.5 420v-5M282.5 57v5M391.5 420v-5M391.5 57v5M500.5 420v-5M500.5 57v5M609.5 420v-5M609.5 57v5"/>
</g>
<text x="46" y="33" textLength="577" lengthAdjust="spacing">Day 360 of 2021, Sidereal Day-to-day VTEC variation (SDTVAR) for receiver ista</text>
<text x="51.5" y="424.5" text-anchor="end">-7</text><text x="51.5" y="391.5" text-anchor="end">-6</text><text x="51.5" y="358.5" text-anchor="end">-5</text><text x="51.5" y="325.5" text-anchor="end">-4</text><text x="51.5" y="292.5" text-anchor="end">-3</text><text x="51.5" y="259.5" text-anchor="end">-2</text><text x="51.5" y="227.5" text-anchor="end">-1</text><text x="51.5" y="194.5" text-anchor="end">0</text><text x="51.5" y="161.5" text-anchor="end">1</text><text x="51.5" y="128.5" text-anchor="end">2</text><text x="51.5" y="95.5" text-anchor="end">3</text><text x="51.5" y="62.5" text-anchor="end">4</text>
<text x="64.5" y="443" text-anchor="middle">0</text><text x="173.5" y="443" text-anchor="middle">5</text><text x="282.5" y="443" text-anchor="middle">10</text><text x="391.5" y="443" text-anchor="middle">15</text><text x="500.5" y="443" text-anchor="middle">20</text><text x="609.5" y="443" text-anchor="middle">25</text>
<text x="334.5" y="471" text-anchor="middle">GPS time / hours</text>
<text transform="translate(18.5 240) rotate(-90)" text-anchor="middle">SDTVAR / TECUs</text>
</svg>
</body></html>
